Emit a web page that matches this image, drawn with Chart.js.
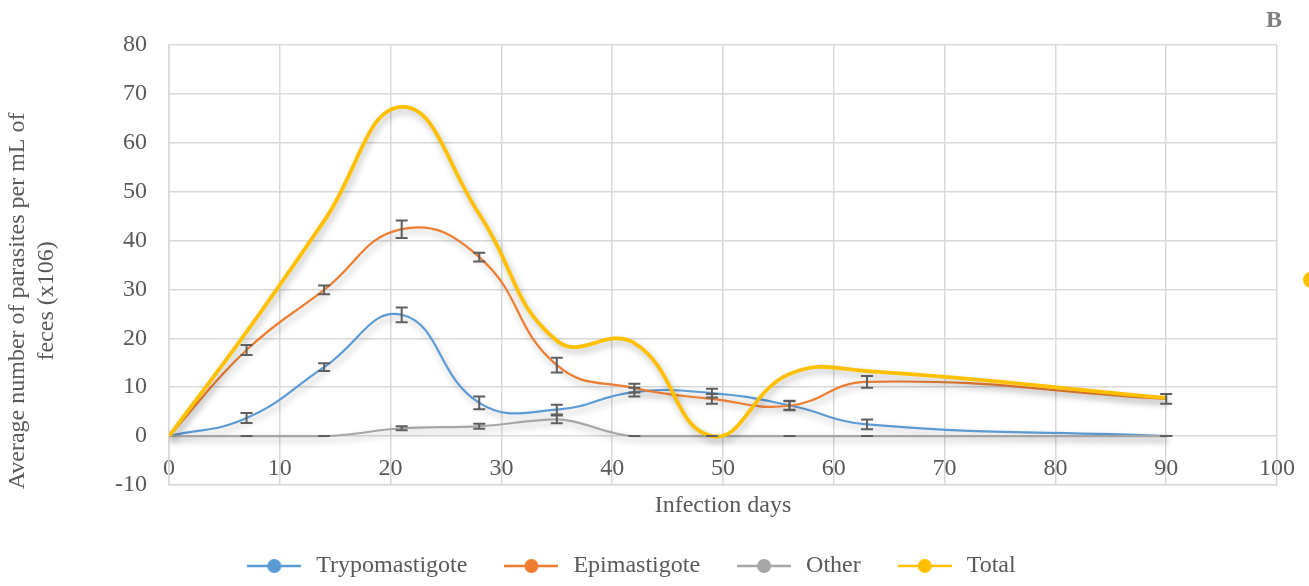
<!DOCTYPE html>
<html>
<head>
<meta charset="utf-8">
<script src="https://cdn.jsdelivr.net/npm/chart.js@4.4.1/dist/chart.umd.min.js"></script>
<style>
  html, body { margin: 0; padding: 0; background: #fff; }
  #wrap { width: 1309px; height: 586px; }
</style>
</head>
<body>
<div id="wrap"><canvas id="chart"></canvas></div>
<script>
// infection days and series (x10^6 parasites per mL of feces)
const days = [0, 7, 14, 21, 28, 35, 42, 49, 56, 63, 90];
const trypo = [0, 3.7, 14.1, 24.8, 6.8, 5.4, 9.0, 8.8, 6.3, 2.4, 0];
const trypoErr = [0, 1.0, 0.8, 1.5, 1.3, 1.0, 0.9, 0.9, 0.9, 1.0, 0];
const epi = [0, 17.6, 29.9, 42.3, 36.6, 14.5, 9.8, 7.6, 6.2, 11.1, 7.6];
const epiErr = [0, 1.0, 0.9, 1.8, 0.9, 1.5, 0.9, 1.0, 0.9, 1.2, 1.0];
const other = [0, 0, 0, 1.6, 2.0, 3.4, 0, 0, 0, 0, 0];
const otherErr = [0, 0, 0, 0.4, 0.5, 0.8, 0, 0, 0, 0, 0];
const total = [0, 21.3, 44.0, 67.3, 45.4, 19.5, 19.0, 0, 12.7, 13.3, 7.8];

const xTicks = [0, 10, 20, 30, 40, 50, 60, 70, 80, 90, 100];
const yTicks = [-10, 0, 10, 20, 30, 40, 50, 60, 70, 80];

const FONT = "'Liberation Serif', 'Times New Roman', serif";
const TXT = '#595959';
const GRID = '#d9d9d9';
const PAD12 = '            '; // pushes the y title down a bit, like the original

// legend marker: short line with a dot in the middle
function legendMark(color) {
  const c = document.createElement('canvas');
  c.width = 54; c.height = 16;
  const g = c.getContext('2d');
  g.strokeStyle = color;
  g.lineWidth = 2.5;
  g.beginPath(); g.moveTo(0, 8); g.lineTo(54, 8); g.stroke();
  g.fillStyle = color;
  g.beginPath(); g.arc(27, 8, 7, 0, Math.PI * 2); g.fill();
  return c;
}

function series(label, vals, errs, color, width, order) {
  return {
    label: label,
    data: days.map((d, i) => ({ x: d, y: vals[i] })),
    errors: errs,
    borderColor: color,
    backgroundColor: color,
    borderWidth: width,
    pointRadius: 0,
    pointHoverRadius: 0,
    pointStyle: legendMark(color),
    tension: 0.45,
    fill: false,
    order: order
  };
}

// soft shadow under each line, like the office chart
const shadowPlugin = {
  id: 'shadow',
  beforeDatasetDraw(chart) {
    const ctx = chart.ctx;
    ctx.save();
    ctx.shadowColor = 'rgba(0,0,0,0.28)';
    ctx.shadowBlur = 7;
    ctx.shadowOffsetX = 2;
    ctx.shadowOffsetY = 4;
  },
  afterDatasetDraw(chart) {
    chart.ctx.restore();
  }
};

// error bars from each dataset's "errors" array
const errorBars = {
  id: 'errorBars',
  afterDatasetsDraw(chart) {
    const ctx = chart.ctx;
    const ys = chart.scales.y;
    ctx.save();
    ctx.strokeStyle = '#5f5f5f';
    ctx.lineWidth = 2;
    chart.data.datasets.forEach((ds, di) => {
      if (!ds.errors) return;
      const meta = chart.getDatasetMeta(di);
      meta.data.forEach((pt, i) => {
        if (i === 0) return;
        const e = ds.errors[i];
        const v = ds.data[i].y;
        const top = ys.getPixelForValue(v + e);
        const bot = ys.getPixelForValue(v - e);
        const x = pt.x;
        ctx.beginPath();
        ctx.moveTo(x, top); ctx.lineTo(x, bot);
        ctx.moveTo(x - 6, top); ctx.lineTo(x + 6, top);
        ctx.moveTo(x - 6, bot); ctx.lineTo(x + 6, bot);
        ctx.stroke();
      });
    });
    ctx.restore();
  }
};

// stray marker clipped at the right edge of the original figure
const strayDot = {
  id: 'strayDot',
  afterDraw(chart) {
    const ctx = chart.ctx;
    ctx.save();
    ctx.fillStyle = '#FFC000';
    ctx.beginPath();
    ctx.arc(chart.width + 2, chart.chartArea.top + 235, 8, 0, Math.PI * 2);
    ctx.fill();
    ctx.restore();
  }
};

// fixed legend height so the plot keeps its place, legend nudged left
const legendHeight = {
  id: 'legendHeight',
  beforeInit(chart) {
    const fit = chart.legend.fit;
    chart.legend.fit = function () {
      fit.call(this);
      this.height = 66;
    };
  },
  afterLayout(chart) {
    chart.legend.left -= 11;
    chart.legend.right -= 11;
  }
};

const datasets = [
  series('Trypomastigote', trypo, trypoErr, '#5B9BD5', 2.2, 4),
  series('Epimastigote', epi, epiErr, '#ED7D31', 2.2, 3),
  series('Other', other, otherErr, '#A5A5A5', 2.2, 2),
  series('Total', total, null, '#FFC000', 3.8, 1)
];
datasets[2].cubicInterpolationMode = 'monotone';

new Chart(document.getElementById('chart'), {
  type: 'line',
  data: { datasets: datasets },
  plugins: [legendHeight, shadowPlugin, errorBars, strayDot],
  options: {
    responsive: true,
    maintainAspectRatio: false,
    animation: false,
    layout: { padding: { left: 0, right: 27, top: 0, bottom: 0 } },
    plugins: {
      tooltip: { enabled: false },
      title: {
        display: true,
        text: 'B',
        align: 'end',
        color: '#7f7f7f',
        font: { family: FONT, size: 24, weight: 'bold' },
        padding: { top: 6, bottom: 10 }
      },
      legend: {
        position: 'bottom',
        labels: {
          usePointStyle: true,
          pointStyleWidth: 60,
          padding: 34,
          color: TXT,
          font: { family: FONT, size: 24 },
          sort: (a, b) => a.datasetIndex - b.datasetIndex
        }
      }
    },
    scales: {
      x: {
        type: 'linear',
        min: 0,
        max: 100,
        afterBuildTicks: s => { s.ticks = xTicks.map(v => ({ value: v })); },
        ticks: { display: false },
        grid: { color: GRID, lineWidth: 1.5, drawTicks: false },
        border: { color: GRID, width: 1.5 },
        title: {
          display: true,
          text: 'Infection days',
          color: TXT,
          font: { family: FONT, size: 24, lineHeight: 1 },
          padding: { top: 0, bottom: 2 }
        },
        afterFit: s => { s.height = 35; }
      },
      x2: {
        type: 'linear',
        axis: 'x',
        position: { y: 0 },
        min: 0,
        max: 100,
        afterBuildTicks: s => { s.ticks = xTicks.map(v => ({ value: v })); },
        grid: { display: false, drawTicks: false },
        border: { display: false },
        ticks: {
          color: TXT,
          padding: 18,
          maxRotation: 0,
          font: { family: FONT, size: 24 }
        },
        afterFit: s => { s.paddingLeft = 0; s.paddingRight = 32; }
      },
      y: {
        min: -10,
        max: 80,
        afterBuildTicks: s => { s.ticks = yTicks.map(v => ({ value: v })); },
        grid: { color: GRID, lineWidth: 1.5, drawTicks: false },
        border: { color: GRID, width: 1.5 },
        ticks: {
          color: TXT,
          padding: 22,
          font: { family: FONT, size: 24 }
        },
        title: {
          display: true,
          text: ['Average number of parasites per mL of' + PAD12, 'feces (x106)' + PAD12],
          color: TXT,
          font: { family: FONT, size: 24, lineHeight: 1.18 },
          padding: { top: 4, bottom: 0 }
        },
        afterFit: s => { s.width = 169; }
      }
    }
  }
});
</script>
</body>
</html>
